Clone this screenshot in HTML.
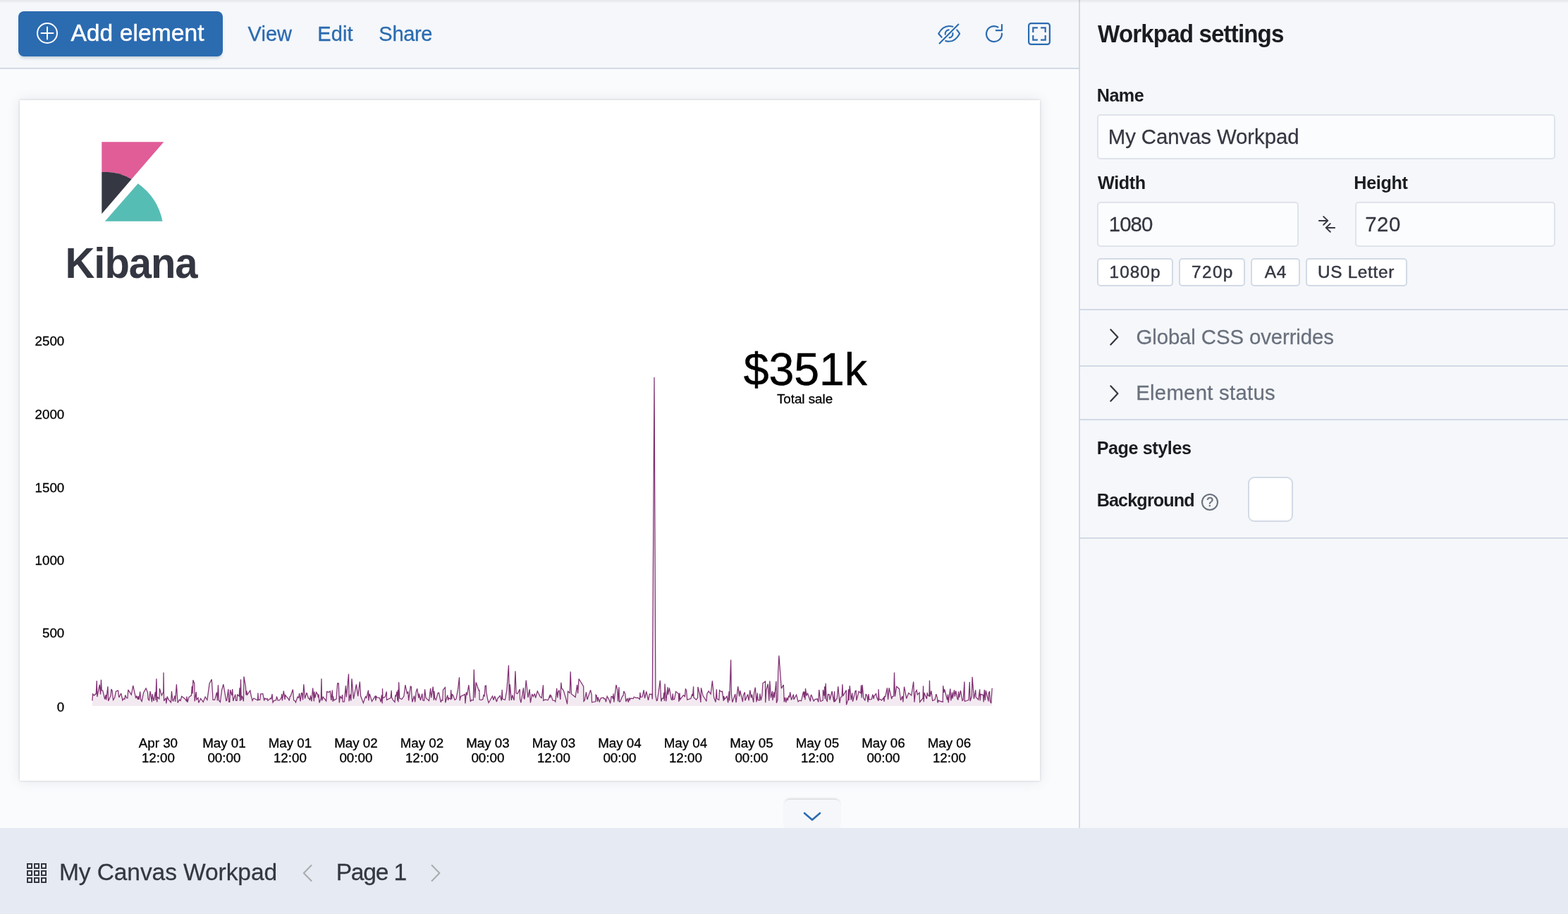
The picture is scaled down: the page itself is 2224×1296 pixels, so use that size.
<!DOCTYPE html>
<html lang="en">
<head>
<meta charset="utf-8">
<title>My Canvas Workpad - Canvas</title>
<style>
*{box-sizing:border-box;margin:0;padding:0}
html,body{width:2224px;height:1296px;overflow:hidden}
body{position:relative;background:#fafbfd;font-family:"Liberation Sans", Arial, Helvetica, sans-serif;color:#343741;-webkit-font-smoothing:antialiased}
header,aside,footer,main,nav,section,form,fieldset{display:block;border:0}
.abs,.t,svg.i{position:absolute}
.t{white-space:nowrap;line-height:1;display:block}
button{font:inherit;border:0;background:none;color:inherit}
/* regions */
.toolbar-bg{left:0;top:0;width:1530px;height:98px;background:#f5f7fa;border-bottom:2px solid #d3dae6}
.sidebar-bg{left:1530px;top:0;width:694px;height:1174px;background:#f5f7fa;border-left:2px solid #d3dae6}
.footer-bg{left:0;top:1174px;width:2224px;height:122px;background:#e6eaf2}
.topshade{left:0;top:0;width:2224px;height:5px;background:linear-gradient(rgba(0,0,10,.07),rgba(0,0,10,.035) 40%,rgba(0,0,10,0));}
.btn-add{left:26px;top:16px;width:290px;height:64px;border-radius:8px;background:#2b6bb0;box-shadow:0 4px 4px -2px rgba(54,97,126,.3)}
.page{left:28px;top:142px;width:1447px;height:964.5px;background:#fff;box-shadow:0 0 3px rgba(50,55,70,.2),0 0 16px rgba(80,85,100,.13);overflow:hidden}
.page svg{position:absolute;left:0;top:0}
.tray{left:1112px;top:1134px;width:80px;height:40px;background:#f5f7fa;border-radius:8px 8px 0 0;box-shadow:0 -3px 3px -1px rgba(0,0,0,.12)}
.field{background:#fbfcfd;border:2px solid #dfe3ec;border-radius:5px;height:64px;top:0}
.badge{background:#fff;border:2px solid #d3dae6;border-radius:5px;height:40px;top:366px}
.hr{left:1532px;width:692px;height:2px;background:#d3dae6}
.swatch{left:1770px;top:676px;width:64px;height:64px;background:#fff;border:2px solid #d3dae6;border-radius:9px}
</style>
</head>
<body>
<main>
  <div class="abs toolbar-bg"></div>
  <header>
    <button class="abs btn-add" type="button" aria-label="Add element"></button>
    <svg class="i" style="left:50px;top:30px" width="34" height="34" viewBox="0 0 34 34" fill="none" stroke="#fff" stroke-width="2"><circle cx="17" cy="17" r="14"/><path d="M17 8.5v17M8.5 17h17" stroke-linecap="round"/></svg>
    <span class="t" style="left:100.40px;top:29.66px;font-size:33.6px;font-weight:400;letter-spacing:0.073px;color:#ffffff;-webkit-text-stroke:0.45px #ffffff;transform:scaleY(1.0001);transform-origin:0 28.44px;">Add element</span>
    <nav><span class="t" style="left:351.50px;top:34.18px;font-size:29.0px;font-weight:400;letter-spacing:0.073px;color:#2b6bb0;-webkit-text-stroke:0.3px #2b6bb0;transform:scaleY(1.0001);transform-origin:0 24.55px;">View</span><span class="t" style="left:450.19px;top:34.18px;font-size:29.0px;font-weight:400;letter-spacing:0.173px;color:#2b6bb0;-webkit-text-stroke:0.3px #2b6bb0;transform:scaleY(1.0001);transform-origin:0 24.55px;">Edit</span><span class="t" style="left:537.37px;top:34.23px;font-size:29.0px;font-weight:400;letter-spacing:-0.317px;color:#2b6bb0;-webkit-text-stroke:0.3px #2b6bb0;transform:scaleY(1.0001);transform-origin:0 24.55px;">Share</span></nav>
    <svg class="i" style="left:1326px;top:28px" width="40" height="40" viewBox="0 0 40 40" fill="none" stroke="#2b6bb0" stroke-width="2.1" stroke-linecap="round" stroke-linejoin="round">
      <path d="M6.6 33.6 L33.4 6.6"/>
      <path d="M9.6 24.800 L5.2 19.700 C9 12.800 14.300 9 20 9 c1.900 0 3.700 .3 5.300 .8"/>
      <path d="M31.200 14.400 c1.500 1.500 2.800 3.200 3.900 5.300 C31.300 26.800 26.200 30.800 20 30.800 c-1.700 0 -3.300 -.3 -4.800 -.8"/>
      <path d="M14.7 20.6 a5.500 5.500 0 0 1 5 -6.200"/>
      <path d="M25.4 19.1 a5.500 5.500 0 0 1 -4.800 6.300"/>
    </svg>
    <svg class="i" style="left:1390px;top:28px" width="40" height="40" viewBox="0 0 40 40" fill="none" stroke="#2b6bb0" stroke-width="2.2" stroke-linecap="round" stroke-linejoin="round">
      <path d="M31 19.6 A11 11 0 1 1 25.4 10.500"/>
      <path d="M31 7 V15.200 H22.800"/>
    </svg>
    <svg class="i" style="left:1456px;top:30px" width="36" height="36" viewBox="0 0 36 36" fill="none" stroke="#2b6bb0" stroke-width="2.2">
      <rect x="3.1" y="3.1" width="29.8" height="29.8" rx="3.4"/>
      <path d="M9.3 15.900 v-6.600 h6.600 M20.100 9.300 h6.600 v6.600 M26.700 20.100 v6.600 h-6.600 M15.900 26.700 h-6.600 v-6.600"/>
    </svg>
  </header>
  <section>
    <div class="abs page">
      <svg width="1447" height="965" viewBox="28 142 1447 965">
        <path d="M144.3 201.3H232.3L186.6 254.1A72 72 0 0 0 144.3 243.9Z" fill="#e05d98"/>
        <path d="M144.3 243.9A72 72 0 0 1 186.6 254.1L144.3 303.2Z" fill="#353742"/>
        <path d="M195.7 260.2A86 86 0 0 1 230.5 313.8H148.9Z" fill="#56bdb5"/>
      </svg>
      <svg class="chart" width="1447" height="965" viewBox="0 0 1447 965">
<polygon points="102.88,858.90 102.88,851.48 103.67,842.08 105.35,844.06 108.32,841.59 109.31,823.29 109.81,846.04 113.27,828.73 114.55,842.58 115.44,821.80 116.24,837.14 117.72,837.14 120.69,849.50 122.17,843.07 122.67,850.49 124.94,831.20 125.63,851.97 129.10,844.06 129.89,835.16 131.07,837.14 132.56,850.49 134.54,847.52 136.51,838.13 139.48,837.14 140.77,847.03 143.74,841.09 145.91,850.99 147.40,848.51 148.88,849.50 149.67,843.57 151.35,847.52 152.84,848.02 153.83,836.15 158.28,843.07 160.75,830.21 164.71,848.02 165.70,844.56 167.67,850.00 168.17,845.05 169.16,850.00 170.64,838.62 171.63,850.00 173.12,852.47 175.59,840.10 179.05,833.97 181.52,840.10 182.02,849.01 183.50,850.99 184.99,838.13 187.46,853.46 187.95,842.08 189.93,851.97 192.40,839.12 192.90,850.99 193.89,820.32 194.68,853.46 195.37,846.53 196.86,847.52 197.85,849.50 198.34,834.17 201.31,844.06 203.78,839.12 203.98,811.42 204.57,851.97 207.24,847.52 207.74,855.44 209.22,845.54 210.71,849.50 214.46,853.95 215.45,838.13 216.84,850.99 217.63,851.97 220.10,844.56 220.60,852.96 222.38,828.23 224.06,854.45 226.53,850.00 228.02,851.48 229.70,845.25 234.45,849.01 236.62,852.47 236.92,845.54 237.91,853.95 239.89,846.53 243.35,844.06 244.34,830.71 245.13,841.59 245.82,822.30 247.80,827.24 248.10,852.47 250.27,839.12 250.77,850.00 253.04,847.52 253.74,854.45 256.70,848.51 260.17,853.46 263.13,846.04 265.90,850.49 269.07,827.24 272.23,821.31 273.52,840.10 274.01,850.49 276.49,850.49 279.46,839.61 280.44,851.48 281.43,829.22 282.42,850.99 284.40,853.46 286.38,837.14 288.85,828.23 292.81,851.48 293.80,850.99 295.78,835.16 296.77,853.46 297.76,853.46 298.55,836.15 300.72,844.06 301.71,835.16 302.70,851.97 305.67,842.58 306.66,851.48 308.14,851.48 308.64,843.07 311.11,845.05 312.00,833.18 312.49,851.97 313.48,821.31 314.18,850.99 315.46,844.56 317.44,852.47 317.94,817.35 320.41,831.20 321.10,843.57 321.89,837.63 322.68,843.07 326.84,837.14 328.32,845.05 330.00,851.48 331.78,848.02 337.52,850.99 337.92,840.60 338.51,850.49 340.69,850.49 341.68,842.08 344.84,841.59 346.62,851.48 347.81,848.02 349.59,849.50 351.07,848.51 351.77,851.48 356.02,848.02 356.71,849.01 358.00,842.08 358.99,853.95 360.97,851.18 363.44,850.99 364.43,845.54 366.21,851.18 368.38,850.99 371.15,847.03 371.65,842.08 372.34,851.48 374.32,837.63 376.10,850.00 376.50,843.57 381.24,849.01 382.23,851.48 383.03,846.04 384.21,845.05 387.38,835.65 388.66,850.99 390.15,851.48 391.43,853.95 394.10,846.04 395.59,847.52 396.58,841.09 398.06,852.47 399.54,840.60 400.53,840.90 401.52,850.49 402.81,828.23 404.49,848.51 406.96,840.10 409.44,848.02 410.92,849.01 411.42,850.99 412.40,844.06 413.89,852.47 415.67,833.67 417.35,852.47 417.85,838.62 418.83,847.52 420.62,839.61 422.79,843.07 423.29,847.03 423.98,842.58 424.97,854.45 427.24,848.02 427.94,820.32 428.53,851.48 430.21,846.04 434.66,851.97 435.65,838.62 438.12,839.61 440.40,838.13 441.78,850.99 443.37,836.64 444.06,852.96 444.36,845.05 445.54,850.99 449.01,849.01 450.69,826.75 452.27,826.75 453.26,854.45 454.45,845.54 456.62,848.02 457.61,843.07 458.21,853.16 460.38,852.96 462.36,830.21 463.35,846.53 466.51,813.59 467.11,852.47 468.79,842.58 469.78,851.48 470.97,820.32 473.44,849.01 477.40,828.43 479.67,845.05 482.34,824.47 483.63,845.05 487.29,854.74 490.55,845.54 491.84,847.52 494.51,836.64 494.81,851.48 496.19,841.59 499.46,852.47 504.40,844.56 504.90,851.48 505.88,845.54 506.87,847.03 510.34,847.52 512.31,853.46 513.30,843.57 514.29,855.44 514.49,834.17 514.99,848.02 518.25,846.04 520.23,838.62 520.53,850.49 526.16,847.52 527.15,837.14 527.65,847.03 529.63,850.99 532.00,853.46 532.79,843.57 533.48,845.54 534.97,838.62 535.76,851.48 536.45,836.15 536.95,853.46 537.64,825.27 538.73,848.02 541.89,849.50 544.86,845.05 546.84,829.22 549.31,841.09 550.79,838.62 551.59,851.48 554.26,831.20 555.25,831.70 556.73,853.46 559.50,844.56 560.69,853.46 562.17,839.12 563.65,834.37 565.83,848.02 566.42,841.59 568.40,850.99 570.78,841.59 571.77,850.99 573.55,851.48 574.54,835.36 576.02,847.52 580.47,851.78 582.65,834.17 583.64,847.52 586.21,831.70 587.40,850.99 587.89,838.13 588.58,847.52 590.36,850.49 593.13,840.60 594.52,840.30 597.29,853.76 598.47,850.49 599.76,850.99 600.45,836.15 603.42,832.69 603.72,854.45 606.69,843.57 607.67,850.99 608.37,847.52 611.14,849.50 611.63,836.35 612.62,849.50 613.31,842.58 614.60,843.57 617.07,850.49 619.05,849.01 621.52,835.16 623.50,818.34 624.19,851.48 625.48,845.54 631.42,842.58 631.91,855.44 633.39,839.61 634.38,843.57 636.86,829.42 639.33,852.96 640.62,850.49 643.29,850.99 644.28,807.26 645.56,847.52 647.24,825.46 651.20,837.14 651.89,836.15 652.19,850.00 654.66,850.49 656.84,849.50 657.83,843.57 659.11,845.05 660.10,830.71 661.39,830.21 661.78,839.12 663.56,849.01 665.05,854.45 670.49,845.05 671.97,850.49 673.65,845.05 676.42,852.96 677.91,848.02 681.37,844.56 683.35,851.48 684.14,836.15 684.83,849.01 688.29,850.49 690.77,837.14 693.44,801.33 694.43,851.48 695.22,828.23 697.40,850.99 698.68,843.57 701.15,850.99 702.94,809.64 704.12,841.09 706.10,841.59 709.27,835.36 709.56,849.01 710.85,854.45 714.51,833.38 715.00,847.52 715.99,849.50 718.17,822.50 720.94,847.03 723.12,835.36 724.40,854.45 726.68,842.08 728.36,845.54 730.34,841.59 731.62,847.52 734.29,837.93 738.25,846.04 740.23,847.52 742.50,829.42 742.70,851.48 745.17,850.00 749.13,850.79 750.62,847.52 752.00,843.57 752.15,847.52 752.99,843.57 754.18,845.54 755.96,850.99 758.73,851.48 759.72,852.96 761.69,834.17 762.68,847.52 763.67,839.12 765.06,836.64 766.84,850.00 767.83,825.76 768.62,833.67 771.29,837.14 774.26,847.03 776.53,856.43 777.52,838.32 780.19,840.60 781.18,810.23 782.47,841.88 788.11,846.53 790.58,829.03 791.57,841.09 793.05,820.52 799.68,831.40 799.98,852.47 801.26,850.99 803.44,839.31 804.92,850.00 809.57,836.35 811.15,843.07 811.55,853.76 816.79,852.77 817.09,843.27 818.08,844.06 819.46,852.96 820.06,846.53 822.23,852.96 824.21,847.82 827.97,847.23 828.66,849.01 830.15,848.51 831.43,853.46 833.12,845.25 836.08,850.49 837.57,855.44 839.05,845.54 840.53,845.84 841.52,848.81 842.02,841.59 842.81,853.76 845.97,829.03 847.76,836.15 848.45,852.47 849.93,832.19 850.43,852.96 851.42,853.16 854.88,845.05 855.87,844.56 856.86,838.13 858.83,842.08 859.82,852.96 861.80,848.22 863.29,853.76 864.28,847.52 865.26,850.49 866.25,848.22 870.21,848.51 871.20,846.24 874.66,847.52 876.64,847.23 879.41,849.50 879.81,839.91 880.60,846.53 883.07,846.04 885.05,836.35 886.53,848.22 888.71,838.32 891.48,850.99 893.26,842.08 894.94,842.58 896.62,842.08 897.31,849.50 899.99,392.98 901.87,844.06 903.35,851.48 904.34,850.99 908.29,822.79 909.78,852.47 911.26,848.02 912.75,848.51 913.74,840.10 914.43,851.97 915.02,827.44 916.70,852.47 918.98,832.39 919.37,843.07 921.35,833.38 924.12,849.50 925.11,850.49 926.30,841.59 926.89,850.00 928.57,849.50 930.55,838.62 934.51,841.88 934.81,852.96 935.99,840.60 936.49,850.00 941.43,843.57 943.41,845.54 944.40,834.37 945.69,837.63 946.68,850.19 951.82,848.51 953.80,842.28 954.59,845.05 955.58,831.20 955.97,847.03 959.54,850.19 961.51,847.52 961.91,831.99 964.68,843.57 965.87,853.95 966.46,833.38 969.13,844.56 972.00,849.01 973.98,852.47 974.77,841.88 977.14,837.93 980.11,842.08 982.39,823.29 984.66,847.03 987.04,853.46 988.32,835.36 989.01,848.81 991.78,850.49 992.58,836.64 994.55,838.62 996.53,838.32 998.21,851.97 998.71,845.05 999.70,849.50 1003.16,845.25 1004.64,854.45 1006.13,838.32 1006.62,851.48 1008.60,793.41 1009.39,842.08 1010.78,853.76 1014.73,842.08 1016.02,854.15 1018.69,831.40 1020.67,845.54 1021.66,837.14 1025.42,853.16 1026.21,844.06 1028.38,839.61 1028.88,851.48 1032.54,842.58 1034.12,851.48 1035.80,836.64 1037.49,847.52 1038.47,842.58 1040.75,853.95 1041.44,841.59 1043.22,832.69 1045.00,853.46 1046.39,840.60 1046.98,850.49 1049.16,851.18 1049.95,841.59 1051.33,851.18 1052.92,843.57 1053.91,826.75 1057.57,824.28 1057.67,854.15 1058.85,836.64 1061.23,827.74 1062.81,851.78 1063.80,823.49 1065.48,847.52 1067.46,837.93 1067.95,851.18 1069.73,839.31 1070.43,847.52 1072.90,824.08 1073.39,854.74 1074.88,850.49 1075.67,811.42 1076.86,787.48 1080.32,834.17 1083.29,829.03 1084.28,853.46 1085.56,846.83 1086.75,854.15 1088.23,847.03 1089.22,851.48 1090.71,844.56 1091.69,847.03 1092.68,839.31 1094.46,850.49 1097.43,842.58 1097.83,850.00 1101.59,843.27 1104.06,852.96 1106.33,850.99 1108.51,851.97 1111.48,838.62 1112.47,847.03 1112.96,838.62 1113.95,850.19 1114.45,834.17 1115.93,844.56 1117.41,840.60 1121.37,852.47 1121.87,844.85 1122.85,843.57 1126.12,851.97 1128.10,849.50 1131.26,849.01 1132.75,853.46 1133.74,836.15 1135.71,852.47 1139.18,850.99 1139.37,836.15 1140.96,844.56 1141.65,831.40 1142.14,849.01 1143.13,827.05 1144.12,850.49 1145.31,852.17 1146.30,842.58 1148.28,842.87 1149.07,850.49 1152.04,838.13 1154.81,853.46 1155.60,838.32 1155.99,852.96 1159.16,848.22 1160.74,831.20 1162.92,854.94 1164.40,846.24 1166.08,846.04 1166.87,828.23 1167.67,845.05 1172.31,836.64 1172.51,857.42 1174.79,850.49 1175.48,835.16 1175.97,850.99 1177.26,830.21 1179.24,850.49 1180.72,840.60 1181.51,852.96 1185.17,837.63 1186.16,837.33 1186.86,851.18 1190.12,838.32 1192.00,840.10 1192.79,840.60 1193.48,829.42 1194.18,847.52 1195.17,829.03 1196.75,847.52 1198.92,851.48 1200.11,842.08 1201.89,845.05 1203.08,853.76 1203.87,842.08 1204.86,850.00 1208.32,849.50 1209.81,842.58 1211.29,849.01 1211.78,845.05 1214.55,841.59 1215.74,847.03 1217.92,851.97 1218.02,835.36 1218.91,850.00 1220.69,849.50 1222.47,851.18 1225.14,847.52 1226.13,852.77 1226.42,845.54 1227.61,846.04 1230.38,833.38 1231.57,850.00 1233.05,833.38 1236.71,849.01 1237.70,845.54 1239.68,845.05 1240.47,811.42 1241.46,845.54 1243.64,831.40 1247.40,834.66 1249.57,850.99 1251.85,845.05 1252.84,853.46 1254.52,831.70 1257.78,848.51 1260.75,840.60 1264.71,844.06 1267.67,824.47 1268.96,853.76 1270.35,839.31 1272.13,836.64 1273.31,842.87 1276.08,840.10 1276.58,853.46 1281.03,848.02 1281.52,830.41 1282.22,853.16 1282.81,840.30 1286.47,849.01 1287.16,840.10 1288.15,844.06 1289.93,845.05 1290.43,822.79 1291.12,845.54 1292.90,837.63 1294.68,851.48 1298.04,850.00 1299.82,842.08 1301.31,847.03 1302.00,854.45 1303.29,850.99 1304.28,851.97 1309.22,853.46 1309.72,830.21 1310.71,840.10 1311.69,835.36 1315.65,850.49 1316.44,842.58 1317.13,854.45 1319.81,834.66 1320.79,851.48 1322.58,839.61 1323.07,848.51 1325.54,836.35 1326.33,845.54 1327.72,837.63 1329.99,849.01 1330.98,850.49 1331.48,838.62 1332.47,847.03 1334.45,837.14 1336.92,851.48 1338.21,850.49 1338.60,845.05 1339.89,824.47 1340.38,852.47 1345.82,850.49 1347.31,825.07 1348.10,852.17 1350.27,845.05 1351.06,817.85 1353.44,849.01 1355.71,836.35 1356.21,846.53 1359.67,850.19 1361.65,835.36 1362.14,851.48 1362.94,842.28 1366.60,843.57 1367.09,853.46 1368.28,836.15 1369.27,850.99 1370.26,837.14 1374.01,852.47 1374.51,839.91 1375.60,838.32 1376.49,852.47 1377.77,855.14 1379.16,833.67 1379.16,858.90" fill="#882e72" fill-opacity="0.1"/>
<polyline points="102.88,851.48 103.67,842.08 105.35,844.06 108.32,841.59 109.31,823.29 109.81,846.04 113.27,828.73 114.55,842.58 115.44,821.80 116.24,837.14 117.72,837.14 120.69,849.50 122.17,843.07 122.67,850.49 124.94,831.20 125.63,851.97 129.10,844.06 129.89,835.16 131.07,837.14 132.56,850.49 134.54,847.52 136.51,838.13 139.48,837.14 140.77,847.03 143.74,841.09 145.91,850.99 147.40,848.51 148.88,849.50 149.67,843.57 151.35,847.52 152.84,848.02 153.83,836.15 158.28,843.07 160.75,830.21 164.71,848.02 165.70,844.56 167.67,850.00 168.17,845.05 169.16,850.00 170.64,838.62 171.63,850.00 173.12,852.47 175.59,840.10 179.05,833.97 181.52,840.10 182.02,849.01 183.50,850.99 184.99,838.13 187.46,853.46 187.95,842.08 189.93,851.97 192.40,839.12 192.90,850.99 193.89,820.32 194.68,853.46 195.37,846.53 196.86,847.52 197.85,849.50 198.34,834.17 201.31,844.06 203.78,839.12 203.98,811.42 204.57,851.97 207.24,847.52 207.74,855.44 209.22,845.54 210.71,849.50 214.46,853.95 215.45,838.13 216.84,850.99 217.63,851.97 220.10,844.56 220.60,852.96 222.38,828.23 224.06,854.45 226.53,850.00 228.02,851.48 229.70,845.25 234.45,849.01 236.62,852.47 236.92,845.54 237.91,853.95 239.89,846.53 243.35,844.06 244.34,830.71 245.13,841.59 245.82,822.30 247.80,827.24 248.10,852.47 250.27,839.12 250.77,850.00 253.04,847.52 253.74,854.45 256.70,848.51 260.17,853.46 263.13,846.04 265.90,850.49 269.07,827.24 272.23,821.31 273.52,840.10 274.01,850.49 276.49,850.49 279.46,839.61 280.44,851.48 281.43,829.22 282.42,850.99 284.40,853.46 286.38,837.14 288.85,828.23 292.81,851.48 293.80,850.99 295.78,835.16 296.77,853.46 297.76,853.46 298.55,836.15 300.72,844.06 301.71,835.16 302.70,851.97 305.67,842.58 306.66,851.48 308.14,851.48 308.64,843.07 311.11,845.05 312.00,833.18 312.49,851.97 313.48,821.31 314.18,850.99 315.46,844.56 317.44,852.47 317.94,817.35 320.41,831.20 321.10,843.57 321.89,837.63 322.68,843.07 326.84,837.14 328.32,845.05 330.00,851.48 331.78,848.02 337.52,850.99 337.92,840.60 338.51,850.49 340.69,850.49 341.68,842.08 344.84,841.59 346.62,851.48 347.81,848.02 349.59,849.50 351.07,848.51 351.77,851.48 356.02,848.02 356.71,849.01 358.00,842.08 358.99,853.95 360.97,851.18 363.44,850.99 364.43,845.54 366.21,851.18 368.38,850.99 371.15,847.03 371.65,842.08 372.34,851.48 374.32,837.63 376.10,850.00 376.50,843.57 381.24,849.01 382.23,851.48 383.03,846.04 384.21,845.05 387.38,835.65 388.66,850.99 390.15,851.48 391.43,853.95 394.10,846.04 395.59,847.52 396.58,841.09 398.06,852.47 399.54,840.60 400.53,840.90 401.52,850.49 402.81,828.23 404.49,848.51 406.96,840.10 409.44,848.02 410.92,849.01 411.42,850.99 412.40,844.06 413.89,852.47 415.67,833.67 417.35,852.47 417.85,838.62 418.83,847.52 420.62,839.61 422.79,843.07 423.29,847.03 423.98,842.58 424.97,854.45 427.24,848.02 427.94,820.32 428.53,851.48 430.21,846.04 434.66,851.97 435.65,838.62 438.12,839.61 440.40,838.13 441.78,850.99 443.37,836.64 444.06,852.96 444.36,845.05 445.54,850.99 449.01,849.01 450.69,826.75 452.27,826.75 453.26,854.45 454.45,845.54 456.62,848.02 457.61,843.07 458.21,853.16 460.38,852.96 462.36,830.21 463.35,846.53 466.51,813.59 467.11,852.47 468.79,842.58 469.78,851.48 470.97,820.32 473.44,849.01 477.40,828.43 479.67,845.05 482.34,824.47 483.63,845.05 487.29,854.74 490.55,845.54 491.84,847.52 494.51,836.64 494.81,851.48 496.19,841.59 499.46,852.47 504.40,844.56 504.90,851.48 505.88,845.54 506.87,847.03 510.34,847.52 512.31,853.46 513.30,843.57 514.29,855.44 514.49,834.17 514.99,848.02 518.25,846.04 520.23,838.62 520.53,850.49 526.16,847.52 527.15,837.14 527.65,847.03 529.63,850.99 532.00,853.46 532.79,843.57 533.48,845.54 534.97,838.62 535.76,851.48 536.45,836.15 536.95,853.46 537.64,825.27 538.73,848.02 541.89,849.50 544.86,845.05 546.84,829.22 549.31,841.09 550.79,838.62 551.59,851.48 554.26,831.20 555.25,831.70 556.73,853.46 559.50,844.56 560.69,853.46 562.17,839.12 563.65,834.37 565.83,848.02 566.42,841.59 568.40,850.99 570.78,841.59 571.77,850.99 573.55,851.48 574.54,835.36 576.02,847.52 580.47,851.78 582.65,834.17 583.64,847.52 586.21,831.70 587.40,850.99 587.89,838.13 588.58,847.52 590.36,850.49 593.13,840.60 594.52,840.30 597.29,853.76 598.47,850.49 599.76,850.99 600.45,836.15 603.42,832.69 603.72,854.45 606.69,843.57 607.67,850.99 608.37,847.52 611.14,849.50 611.63,836.35 612.62,849.50 613.31,842.58 614.60,843.57 617.07,850.49 619.05,849.01 621.52,835.16 623.50,818.34 624.19,851.48 625.48,845.54 631.42,842.58 631.91,855.44 633.39,839.61 634.38,843.57 636.86,829.42 639.33,852.96 640.62,850.49 643.29,850.99 644.28,807.26 645.56,847.52 647.24,825.46 651.20,837.14 651.89,836.15 652.19,850.00 654.66,850.49 656.84,849.50 657.83,843.57 659.11,845.05 660.10,830.71 661.39,830.21 661.78,839.12 663.56,849.01 665.05,854.45 670.49,845.05 671.97,850.49 673.65,845.05 676.42,852.96 677.91,848.02 681.37,844.56 683.35,851.48 684.14,836.15 684.83,849.01 688.29,850.49 690.77,837.14 693.44,801.33 694.43,851.48 695.22,828.23 697.40,850.99 698.68,843.57 701.15,850.99 702.94,809.64 704.12,841.09 706.10,841.59 709.27,835.36 709.56,849.01 710.85,854.45 714.51,833.38 715.00,847.52 715.99,849.50 718.17,822.50 720.94,847.03 723.12,835.36 724.40,854.45 726.68,842.08 728.36,845.54 730.34,841.59 731.62,847.52 734.29,837.93 738.25,846.04 740.23,847.52 742.50,829.42 742.70,851.48 745.17,850.00 749.13,850.79 750.62,847.52 752.00,843.57 752.15,847.52 752.99,843.57 754.18,845.54 755.96,850.99 758.73,851.48 759.72,852.96 761.69,834.17 762.68,847.52 763.67,839.12 765.06,836.64 766.84,850.00 767.83,825.76 768.62,833.67 771.29,837.14 774.26,847.03 776.53,856.43 777.52,838.32 780.19,840.60 781.18,810.23 782.47,841.88 788.11,846.53 790.58,829.03 791.57,841.09 793.05,820.52 799.68,831.40 799.98,852.47 801.26,850.99 803.44,839.31 804.92,850.00 809.57,836.35 811.15,843.07 811.55,853.76 816.79,852.77 817.09,843.27 818.08,844.06 819.46,852.96 820.06,846.53 822.23,852.96 824.21,847.82 827.97,847.23 828.66,849.01 830.15,848.51 831.43,853.46 833.12,845.25 836.08,850.49 837.57,855.44 839.05,845.54 840.53,845.84 841.52,848.81 842.02,841.59 842.81,853.76 845.97,829.03 847.76,836.15 848.45,852.47 849.93,832.19 850.43,852.96 851.42,853.16 854.88,845.05 855.87,844.56 856.86,838.13 858.83,842.08 859.82,852.96 861.80,848.22 863.29,853.76 864.28,847.52 865.26,850.49 866.25,848.22 870.21,848.51 871.20,846.24 874.66,847.52 876.64,847.23 879.41,849.50 879.81,839.91 880.60,846.53 883.07,846.04 885.05,836.35 886.53,848.22 888.71,838.32 891.48,850.99 893.26,842.08 894.94,842.58 896.62,842.08 897.31,849.50 899.99,392.98 901.87,844.06 903.35,851.48 904.34,850.99 908.29,822.79 909.78,852.47 911.26,848.02 912.75,848.51 913.74,840.10 914.43,851.97 915.02,827.44 916.70,852.47 918.98,832.39 919.37,843.07 921.35,833.38 924.12,849.50 925.11,850.49 926.30,841.59 926.89,850.00 928.57,849.50 930.55,838.62 934.51,841.88 934.81,852.96 935.99,840.60 936.49,850.00 941.43,843.57 943.41,845.54 944.40,834.37 945.69,837.63 946.68,850.19 951.82,848.51 953.80,842.28 954.59,845.05 955.58,831.20 955.97,847.03 959.54,850.19 961.51,847.52 961.91,831.99 964.68,843.57 965.87,853.95 966.46,833.38 969.13,844.56 972.00,849.01 973.98,852.47 974.77,841.88 977.14,837.93 980.11,842.08 982.39,823.29 984.66,847.03 987.04,853.46 988.32,835.36 989.01,848.81 991.78,850.49 992.58,836.64 994.55,838.62 996.53,838.32 998.21,851.97 998.71,845.05 999.70,849.50 1003.16,845.25 1004.64,854.45 1006.13,838.32 1006.62,851.48 1008.60,793.41 1009.39,842.08 1010.78,853.76 1014.73,842.08 1016.02,854.15 1018.69,831.40 1020.67,845.54 1021.66,837.14 1025.42,853.16 1026.21,844.06 1028.38,839.61 1028.88,851.48 1032.54,842.58 1034.12,851.48 1035.80,836.64 1037.49,847.52 1038.47,842.58 1040.75,853.95 1041.44,841.59 1043.22,832.69 1045.00,853.46 1046.39,840.60 1046.98,850.49 1049.16,851.18 1049.95,841.59 1051.33,851.18 1052.92,843.57 1053.91,826.75 1057.57,824.28 1057.67,854.15 1058.85,836.64 1061.23,827.74 1062.81,851.78 1063.80,823.49 1065.48,847.52 1067.46,837.93 1067.95,851.18 1069.73,839.31 1070.43,847.52 1072.90,824.08 1073.39,854.74 1074.88,850.49 1075.67,811.42 1076.86,787.48 1080.32,834.17 1083.29,829.03 1084.28,853.46 1085.56,846.83 1086.75,854.15 1088.23,847.03 1089.22,851.48 1090.71,844.56 1091.69,847.03 1092.68,839.31 1094.46,850.49 1097.43,842.58 1097.83,850.00 1101.59,843.27 1104.06,852.96 1106.33,850.99 1108.51,851.97 1111.48,838.62 1112.47,847.03 1112.96,838.62 1113.95,850.19 1114.45,834.17 1115.93,844.56 1117.41,840.60 1121.37,852.47 1121.87,844.85 1122.85,843.57 1126.12,851.97 1128.10,849.50 1131.26,849.01 1132.75,853.46 1133.74,836.15 1135.71,852.47 1139.18,850.99 1139.37,836.15 1140.96,844.56 1141.65,831.40 1142.14,849.01 1143.13,827.05 1144.12,850.49 1145.31,852.17 1146.30,842.58 1148.28,842.87 1149.07,850.49 1152.04,838.13 1154.81,853.46 1155.60,838.32 1155.99,852.96 1159.16,848.22 1160.74,831.20 1162.92,854.94 1164.40,846.24 1166.08,846.04 1166.87,828.23 1167.67,845.05 1172.31,836.64 1172.51,857.42 1174.79,850.49 1175.48,835.16 1175.97,850.99 1177.26,830.21 1179.24,850.49 1180.72,840.60 1181.51,852.96 1185.17,837.63 1186.16,837.33 1186.86,851.18 1190.12,838.32 1192.00,840.10 1192.79,840.60 1193.48,829.42 1194.18,847.52 1195.17,829.03 1196.75,847.52 1198.92,851.48 1200.11,842.08 1201.89,845.05 1203.08,853.76 1203.87,842.08 1204.86,850.00 1208.32,849.50 1209.81,842.58 1211.29,849.01 1211.78,845.05 1214.55,841.59 1215.74,847.03 1217.92,851.97 1218.02,835.36 1218.91,850.00 1220.69,849.50 1222.47,851.18 1225.14,847.52 1226.13,852.77 1226.42,845.54 1227.61,846.04 1230.38,833.38 1231.57,850.00 1233.05,833.38 1236.71,849.01 1237.70,845.54 1239.68,845.05 1240.47,811.42 1241.46,845.54 1243.64,831.40 1247.40,834.66 1249.57,850.99 1251.85,845.05 1252.84,853.46 1254.52,831.70 1257.78,848.51 1260.75,840.60 1264.71,844.06 1267.67,824.47 1268.96,853.76 1270.35,839.31 1272.13,836.64 1273.31,842.87 1276.08,840.10 1276.58,853.46 1281.03,848.02 1281.52,830.41 1282.22,853.16 1282.81,840.30 1286.47,849.01 1287.16,840.10 1288.15,844.06 1289.93,845.05 1290.43,822.79 1291.12,845.54 1292.90,837.63 1294.68,851.48 1298.04,850.00 1299.82,842.08 1301.31,847.03 1302.00,854.45 1303.29,850.99 1304.28,851.97 1309.22,853.46 1309.72,830.21 1310.71,840.10 1311.69,835.36 1315.65,850.49 1316.44,842.58 1317.13,854.45 1319.81,834.66 1320.79,851.48 1322.58,839.61 1323.07,848.51 1325.54,836.35 1326.33,845.54 1327.72,837.63 1329.99,849.01 1330.98,850.49 1331.48,838.62 1332.47,847.03 1334.45,837.14 1336.92,851.48 1338.21,850.49 1338.60,845.05 1339.89,824.47 1340.38,852.47 1345.82,850.49 1347.31,825.07 1348.10,852.17 1350.27,845.05 1351.06,817.85 1353.44,849.01 1355.71,836.35 1356.21,846.53 1359.67,850.19 1361.65,835.36 1362.14,851.48 1362.94,842.28 1366.60,843.57 1367.09,853.46 1368.28,836.15 1369.27,850.99 1370.26,837.14 1374.01,852.47 1374.51,839.91 1375.60,838.32 1376.49,852.47 1377.77,855.14 1379.16,833.67" fill="none" stroke="#7f3072" stroke-width="1.25" stroke-linejoin="miter" stroke-miterlimit="3"/>
<g font-family='"Liberation Sans", Arial, Helvetica, sans-serif' font-size="18.76" fill="#000" stroke="#000" stroke-width="0.3">
<text x="63.3" y="348.0" text-anchor="end">2500</text>
<text x="63.3" y="452.0" text-anchor="end">2000</text>
<text x="63.3" y="556.0" text-anchor="end">1500</text>
<text x="63.3" y="659.0" text-anchor="end">1000</text>
<text x="63.3" y="762.0" text-anchor="end">500</text>
<text x="63.3" y="867.0" text-anchor="end">0</text>
<text x="196.4" y="918.1" text-anchor="middle">Apr 30</text>
<text x="196.4" y="939.2" text-anchor="middle">12:00</text>
<text x="289.9" y="918.1" text-anchor="middle">May 01</text>
<text x="289.9" y="939.2" text-anchor="middle">00:00</text>
<text x="383.4" y="918.1" text-anchor="middle">May 01</text>
<text x="383.4" y="939.2" text-anchor="middle">12:00</text>
<text x="476.9" y="918.1" text-anchor="middle">May 02</text>
<text x="476.9" y="939.2" text-anchor="middle">00:00</text>
<text x="570.4" y="918.1" text-anchor="middle">May 02</text>
<text x="570.4" y="939.2" text-anchor="middle">12:00</text>
<text x="663.9" y="918.1" text-anchor="middle">May 03</text>
<text x="663.9" y="939.2" text-anchor="middle">00:00</text>
<text x="757.4" y="918.1" text-anchor="middle">May 03</text>
<text x="757.4" y="939.2" text-anchor="middle">12:00</text>
<text x="850.9" y="918.1" text-anchor="middle">May 04</text>
<text x="850.9" y="939.2" text-anchor="middle">00:00</text>
<text x="944.4" y="918.1" text-anchor="middle">May 04</text>
<text x="944.4" y="939.2" text-anchor="middle">12:00</text>
<text x="1037.9" y="918.1" text-anchor="middle">May 05</text>
<text x="1037.9" y="939.2" text-anchor="middle">00:00</text>
<text x="1131.4" y="918.1" text-anchor="middle">May 05</text>
<text x="1131.4" y="939.2" text-anchor="middle">12:00</text>
<text x="1224.9" y="918.1" text-anchor="middle">May 06</text>
<text x="1224.9" y="939.2" text-anchor="middle">00:00</text>
<text x="1318.4" y="918.1" text-anchor="middle">May 06</text>
<text x="1318.4" y="939.2" text-anchor="middle">12:00</text>
</g>
<text x="1114.3" y="403.7" text-anchor="middle" font-family='"Liberation Sans", Arial, Helvetica, sans-serif' font-size="64.3" fill="#000" stroke="#000" stroke-width="0.5">$351k</text>
<text x="1113.5" y="429.8" text-anchor="middle" font-family='"Liberation Sans", Arial, Helvetica, sans-serif' font-size="18.76" fill="#000" stroke="#000" stroke-width="0.3">Total sale</text>
</svg>
    </div>
    <span class="t" style="left:92.48px;top:345.30px;font-size:58px;font-weight:700;letter-spacing:-1.046px;color:#343741;transform:scaleY(1.0500);transform-origin:0 49.10px;">Kibana</span>
  </section>
  <div class="abs tray"></div>
  <svg class="i" style="left:1136px;top:1146px" width="32" height="24" viewBox="0 0 32 24" fill="none" stroke="#2b6bb0" stroke-width="2.6" stroke-linecap="round" stroke-linejoin="round"><path d="M5 7 L16 16.6 L27 7"/></svg>
</main>
<aside>
  <div class="abs sidebar-bg"></div>
  <h2><span class="t" style="left:1557.05px;top:32.00px;font-size:33.2px;font-weight:700;letter-spacing:-0.896px;color:#1a1c21;transform:scaleY(1.0349);transform-origin:0 28.10px;">Workpad settings</span></h2>
  <form>
    <label><span class="t" style="left:1555.81px;top:122.67px;font-size:25.2px;font-weight:700;letter-spacing:-0.585px;color:#1a1c21;transform:scaleY(1.0001);transform-origin:0 21.33px;">Name</span></label>
    <div class="abs field" style="left:1556px;top:162px;width:650px"></div><span class="t" style="left:1571.79px;top:179.11px;font-size:29.4px;font-weight:400;letter-spacing:-0.094px;color:#343741;-webkit-text-stroke:0.25px #343741;transform:scaleY(1.0216);transform-origin:0 24.89px;">My Canvas Workpad</span>
    <label><span class="t" style="left:1557.04px;top:246.57px;font-size:25.2px;font-weight:700;letter-spacing:-0.380px;color:#1a1c21;transform:scaleY(1.0001);transform-origin:0 21.33px;">Width</span></label>
    <div class="abs field" style="left:1556px;top:286px;width:286px"></div><span class="t" style="left:1572.79px;top:303.11px;font-size:29.4px;font-weight:400;letter-spacing:-0.926px;color:#343741;-webkit-text-stroke:0.25px #343741;transform:scaleY(1.0216);transform-origin:0 24.89px;">1080</span>
    <svg class="i" style="left:1866px;top:302px" width="32" height="32" viewBox="0 0 32 32" fill="none" stroke="#343741" stroke-width="2" stroke-linecap="round" stroke-linejoin="round"><path d="M4.9 10.900H17M11.200 5.100L17.300 10.900L11.200 16.800"/><path d="M27.100 20.900H15M20.800 15.100L14.700 20.900L20.800 26.800"/></svg>
    <label><span class="t" style="left:1920.35px;top:246.57px;font-size:25.2px;font-weight:700;letter-spacing:-0.343px;color:#1a1c21;transform:scaleY(1.0001);transform-origin:0 21.33px;">Height</span></label>
    <div class="abs field" style="left:1922px;top:286px;width:284px"></div><span class="t" style="left:1936.22px;top:303.11px;font-size:29.4px;font-weight:400;letter-spacing:0.549px;color:#343741;-webkit-text-stroke:0.25px #343741;transform:scaleY(1.0216);transform-origin:0 24.89px;">720</span>
    <div class="abs badge" style="left:1556px;width:108px"></div><span class="t" style="left:1573.56px;top:373.89px;font-size:24.4px;font-weight:400;letter-spacing:1.028px;color:#343741;-webkit-text-stroke:0.45px #343741;transform:scaleY(1.0001);transform-origin:0 20.65px;">1080p</span>
    <div class="abs badge" style="left:1672px;width:94px"></div><span class="t" style="left:1689.99px;top:373.89px;font-size:24.4px;font-weight:400;letter-spacing:1.387px;color:#343741;-webkit-text-stroke:0.45px #343741;transform:scaleY(1.0001);transform-origin:0 20.65px;">720p</span>
    <div class="abs badge" style="left:1774px;width:70px"></div><span class="t" style="left:1793.69px;top:373.89px;font-size:24.4px;font-weight:400;letter-spacing:0.713px;color:#343741;-webkit-text-stroke:0.45px #343741;transform:scaleY(1.0001);transform-origin:0 20.65px;">A4</span>
    <div class="abs badge" style="left:1852px;width:144px"></div><span class="t" style="left:1869.02px;top:373.93px;font-size:24.4px;font-weight:400;letter-spacing:0.658px;color:#343741;-webkit-text-stroke:0.45px #343741;transform:scaleY(1.0001);transform-origin:0 20.65px;">US Letter</span>
  </form>
  <div class="abs hr" style="top:438px"></div>
  <svg class="i" style="left:1566px;top:462px" width="32" height="32" viewBox="0 0 32 32" fill="none" stroke="#343741" stroke-width="2.2" stroke-linecap="round" stroke-linejoin="round"><path d="M9.3 5.3 L19.4 16 L9.3 26.7"/></svg>
  <span class="t" style="left:1611.53px;top:463.11px;font-size:29.4px;font-weight:400;letter-spacing:-0.119px;color:#69707d;-webkit-text-stroke:0.25px #69707d;transform:scaleY(1.0210);transform-origin:0 24.89px;">Global CSS overrides</span>
  <div class="abs hr" style="top:518px"></div>
  <svg class="i" style="left:1566px;top:542px" width="32" height="32" viewBox="0 0 32 32" fill="none" stroke="#343741" stroke-width="2.2" stroke-linecap="round" stroke-linejoin="round"><path d="M9.3 5.3 L19.4 16 L9.3 26.7"/></svg>
  <span class="t" style="left:1611.23px;top:541.91px;font-size:29.4px;font-weight:400;letter-spacing:0.234px;color:#69707d;-webkit-text-stroke:0.25px #69707d;transform:scaleY(1.0210);transform-origin:0 24.89px;">Element status</span>
  <div class="abs hr" style="top:594px"></div>
  <h3><span class="t" style="left:1555.67px;top:622.67px;font-size:25.2px;font-weight:700;letter-spacing:-0.428px;color:#1a1c21;transform:scaleY(1.0001);transform-origin:0 21.33px;">Page styles</span></h3>
  <label><span class="t" style="left:1555.67px;top:697.07px;font-size:25.2px;font-weight:700;letter-spacing:-0.875px;color:#1a1c21;transform:scaleY(1.0001);transform-origin:0 21.33px;">Background</span></label>
  <svg class="i" style="left:1702px;top:698px" width="28" height="28" viewBox="0 0 28 28" fill="none" stroke="#69707d" stroke-width="2"><circle cx="14" cy="14" r="11"/><text x="14" y="20.2" text-anchor="middle" font-family='"Liberation Sans", Arial, sans-serif' font-size="17.5" font-weight="400" fill="#69707d" stroke="#69707d" stroke-width="0.5">?</text></svg>
  <div class="abs swatch"></div>
  <div class="abs hr" style="top:762px"></div>
</aside>
<footer>
  <div class="abs footer-bg"></div>
  <svg class="i" style="left:36px;top:1222px" width="32" height="32" viewBox="0 0 32 32" fill="none" stroke="#343741" stroke-width="2">
    <rect x="3" y="3" width="6" height="6"/><rect x="13" y="3" width="6" height="6"/><rect x="23" y="3" width="6" height="6"/>
    <rect x="3" y="13" width="6" height="6"/><rect x="13" y="13" width="6" height="6"/><rect x="23" y="13" width="6" height="6"/>
    <rect x="3" y="23" width="6" height="6"/><rect x="13" y="23" width="6" height="6"/><rect x="23" y="23" width="6" height="6"/>
  </svg>
  <span class="t" style="left:83.89px;top:1219.56px;font-size:33.6px;font-weight:400;letter-spacing:-0.111px;color:#343741;-webkit-text-stroke:0.25px #343741;transform:scaleY(1.0153);transform-origin:0 28.44px;">My Canvas Workpad</span>
  <svg class="i" style="left:420px;top:1222px" width="32" height="32" viewBox="0 0 32 32" fill="none" stroke="#a9abae" stroke-width="2" stroke-linecap="round" stroke-linejoin="round"><path d="M21.6 5 L10.8 16 L21.6 27"/></svg>
  <span class="t" style="left:476.66px;top:1219.56px;font-size:33.6px;font-weight:400;letter-spacing:-1.193px;color:#343741;-webkit-text-stroke:0.25px #343741;transform:scaleY(1.0153);transform-origin:0 28.44px;">Page 1</span>
  <svg class="i" style="left:602px;top:1222px" width="32" height="32" viewBox="0 0 32 32" fill="none" stroke="#a9abae" stroke-width="2" stroke-linecap="round" stroke-linejoin="round"><path d="M10.6 5 L21.4 16 L10.6 27"/></svg>
</footer>
<div class="abs topshade"></div>
</body>
</html>
